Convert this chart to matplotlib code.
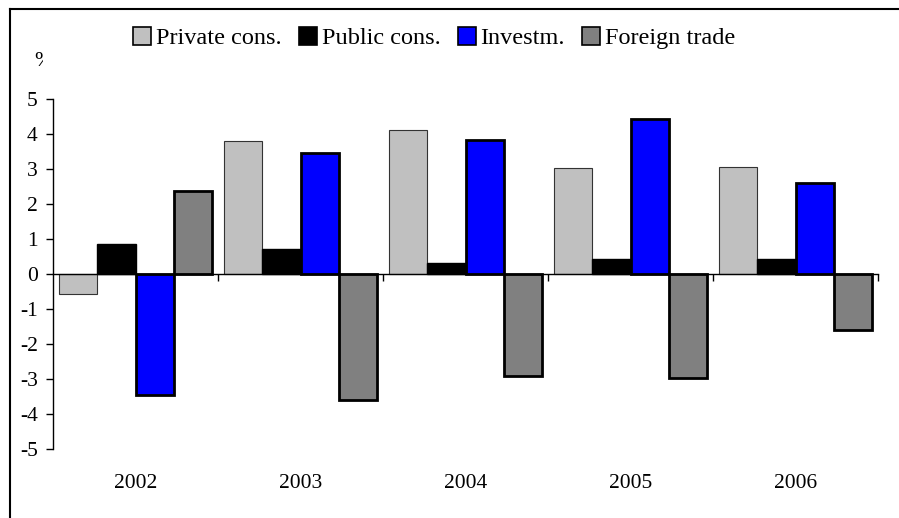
import matplotlib
matplotlib.use("Agg")
import matplotlib.pyplot as plt
import numpy as np
from matplotlib.lines import Line2D
from matplotlib.transforms import Bbox, TransformedBbox

years = ["2002", "2003", "2004", "2005", "2006"]
series_names = ["Private cons.", "Public cons.", "Investm.", "Foreign trade"]
private_cons = [-0.57, 3.81, 4.11, 3.03, 3.05]
public_cons = [0.85, 0.71, 0.31, 0.43, 0.43]
investm = [-3.46, 3.45, 3.82, 4.43, 2.6]
foreign_trade = [2.38, -3.6, -2.9, -2.97, -1.6]
yticks = [5, 4, 3, 2, 1, 0, -1, -2, -3, -4, -5]

colors = ["#C0C0C0", "#000000", "#0000FF", "#808080"]
edge_lw = [0.8, 1.0, 2.0, 2.0]
edge_col = ["#333333", "#000000", "#000000", "#000000"]

plt.rcParams["font.family"] = ["Liberation Serif", "DejaVu Serif"]

fig = plt.figure(figsize=(8.99, 5.18), dpi=100)
ax = fig.add_axes([53/899, 1-449/518, (878-53)/899, (449-99)/518])

x = np.arange(len(years))
w = 0.233
data = [private_cons, public_cons, investm, foreign_trade]
for i, (vals, name) in enumerate(zip(data, series_names)):
    ax.bar(x + (i - 1.5) * w, vals, width=w, color=colors[i],
           edgecolor=edge_col[i], linewidth=edge_lw[i], label=name, zorder=2)

ax.set_xlim(-0.5, len(years) - 0.5)
ax.set_ylim(-5, 5)
ax.set_yticks(yticks)
ax.set_yticklabels([str(v) for v in yticks])
ax.tick_params(axis="y", length=5, width=1, labelsize=15.5, pad=6)

for s in ["top", "right"]:
    ax.spines[s].set_visible(False)
ax.spines["left"].set_linewidth(1)
ax.spines["bottom"].set_position(("data", 0))
ax.spines["bottom"].set_linewidth(1)
ax.spines["bottom"].set_zorder(3)
bounds = np.arange(len(years) + 1) - 0.5
ax.set_xticks(bounds[1:])
ax.set_xticklabels([])
ax.tick_params(axis="x", length=5, width=1, direction="out")

sec = ax.secondary_xaxis(-0.0)
sec.set_xticks(x)
sec.set_xticklabels(years)
sec.tick_params(length=0, pad=18, labelsize=15.5)
sec.spines["bottom"].set_visible(False)

leg = fig.legend(loc="center", bbox_to_anchor=(0.483, 1-38/518), ncol=4,
                 frameon=False, fontsize=17.5, handlelength=0.75, handleheight=0.75,
                 handletextpad=0.2, columnspacing=0.7, borderaxespad=0)
for h in leg.legend_handles:
    h.set_edgecolor("black")
    h.set_linewidth(1.2)

pct = fig.text(34/899, 1-62/518, "%", fontsize=15.5, ha="left", va="center")
pct.set_clip_box(TransformedBbox(Bbox([[0, 0], [43/899, 1]]), fig.transFigure))
pct.set_clip_on(True)

fig.add_artist(Line2D([10/899, 1], [1-9/518, 1-9/518], color="black", lw=1.5))
fig.add_artist(Line2D([10/899, 10/899], [0, 1-9/518], color="black", lw=1.5))

fig.savefig("out.png", dpi=100)
